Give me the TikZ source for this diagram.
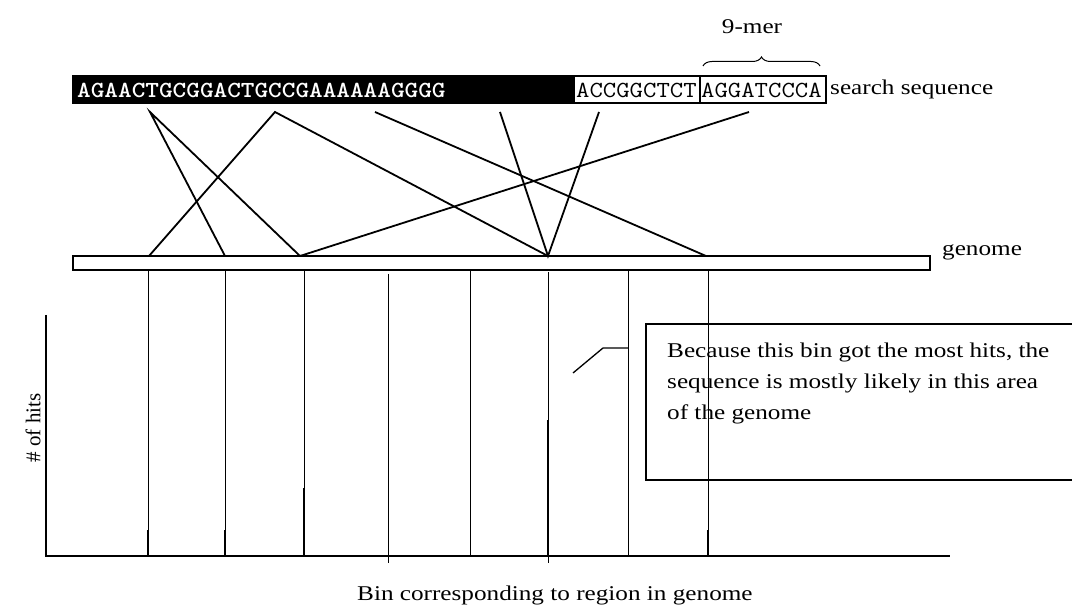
\documentclass[tikz,border=0pt]{standalone}
\usepackage{fontspec}
\usepackage{graphicx}
\setmainfont{Liberation Serif}[FakeStretch=1.2]
\newfontfamily\plainserif{Liberation Serif}
\usetikzlibrary{decorations.pathreplacing}
\newcommand{\seqstr}[1]{\scalebox{1.13}[1]{\ttfamily\fontsize{23}{26}\selectfont #1}}
\tikzset{
  link/.style={line width=1.8pt},
  binline/.style={line width=0.9pt},
  hitbar/.style={line width=2.6pt},
  lbl/.style={inner sep=0pt, font=\fontsize{21}{24}\selectfont},
  seqtxt/.style={inner sep=0pt, anchor=west},
}
\begin{document}
\begin{tikzpicture}[x=1pt,y=-1pt]
\useasboundingbox (0,0) rectangle (1072,609);
% search sequence
\fill (73,76) rectangle (575,103);
\draw[line width=1.2pt] (73,76) rectangle (826,103);
\draw[line width=1.2pt] (700,76) -- (700,103);
\node[seqtxt, text=white, font=\bfseries] (s0) at (77,90) {\seqstr{AGAACTGCGGACTGCCGAAAAAAGGGG}};
\node[seqtxt] (s1) at (576,90) {\seqstr{ACCGGCTCT}};
\node[seqtxt] (s2) at (701,90) {\seqstr{AGGATCCCA}};
\node[lbl, anchor=base west] (ss) at (830,95) {search sequence};
\draw[line width=1pt, decorate, decoration={brace, amplitude=9pt}] (703,66) -- (820,66);
\node[lbl, anchor=base] (mer) at (752,34) {9-mer};
% genome
\draw[line width=1.8pt] (73,256) rectangle (930,270);
\node[lbl, anchor=base west] (gen) at (942,256) {genome};
% match points
\coordinate (a) at (150,112);
\coordinate (b) at (275,112);
\coordinate (c) at (375,112);
\coordinate (d) at (500,112);
\coordinate (e) at (599,112);
\coordinate (f) at (749,112);
\coordinate (g1) at (149,256);
\coordinate (g2) at (225,256);
\coordinate (g3) at (300,256);
\coordinate (g4) at (548,256);
\coordinate (g5) at (706,256);
\draw[link] (g2) -- (a) -- (g3);
\draw[link] (g1) -- (b) -- (g4);
\draw[link] (c) -- (g5);
\draw[link] (d) -- (g4) -- (e);
\draw[link] (f) -- (g3);
% axes
\draw[line width=1.8pt] (46,315) -- (46,556) -- (950,556);
\node[inner sep=0pt, font=\plainserif\fontsize{21}{24}\selectfont, rotate=90] (yl) at (33,428) {\# of hits};
\node[lbl, anchor=base west] (xl) at (357,601) {Bin corresponding to region in genome};
% bin lines
\foreach \x in {148,225,304,470,628,708} \draw[binline] (\x,270) -- (\x,556);
\draw[binline] (388,274) -- (388,563);
\draw[binline] (548,272) -- (548,563);
% hit bars
\draw[hitbar] (148,530) -- (148,556);
\draw[hitbar] (225,530) -- (225,556);
\draw[hitbar] (304,488) -- (304,556);
\draw[hitbar] (548,420) -- (548,556);
\draw[hitbar] (708,530) -- (708,556);
% callout
\draw[line width=1.2pt] (1073,324) -- (646,324) -- (646,480) -- (1073,480);
\node[lbl, anchor=base west, align=left, font=\fontsize{21}{31}\selectfont] (note) at (667,420)
  {Because this bin got the most hits, the\\ sequence is mostly likely in this area\\ of the genome};
\coordinate (lead) at (628,348);
\draw[line width=1.3pt] (573,373) -- (603,348) -- (lead);
\draw[binline] (708,324) -- (708,480);
\end{tikzpicture}
\end{document}
